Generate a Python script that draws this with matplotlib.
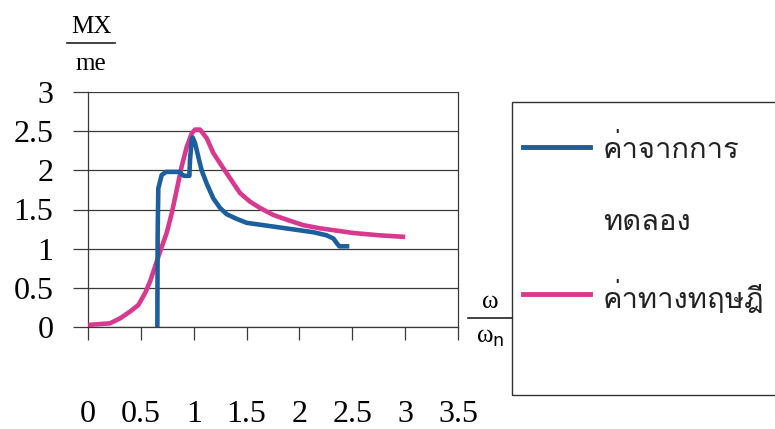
import matplotlib
matplotlib.use("Agg")
import matplotlib.pyplot as plt
from matplotlib import font_manager
from matplotlib.ft2font import FT2Font
from matplotlib.lines import Line2D
from matplotlib.patches import Rectangle

# ค่าจากการทดลอง (experimental)
exp_x = [0.656, 0.659, 0.665, 0.697, 0.738, 0.870, 0.886, 0.908, 0.959,
         0.965, 0.981, 0.990, 1.012, 1.044, 1.075, 1.123, 1.186, 1.249,
         1.312, 1.407, 1.501, 1.659, 1.816, 1.974, 2.132, 2.258, 2.321,
         2.353, 2.378, 2.472]
exp_y = [0.0, 1.20, 1.77, 1.94, 1.98, 1.98, 1.95, 1.93, 1.93,
         2.13, 2.39, 2.42, 2.35, 2.17, 2.00, 1.83, 1.64, 1.52,
         1.44, 1.38, 1.33, 1.30, 1.27, 1.24, 1.21, 1.17, 1.13,
         1.07, 1.03, 1.03]

# ค่าทางทฤษฎี (theory)
th_x = [0.003, 0.208, 0.303, 0.397, 0.476, 0.539, 0.587, 0.634, 0.681,
        0.744, 0.792, 0.839, 0.886, 0.934, 0.981, 1.012, 1.060, 1.123,
        1.186, 1.249, 1.343, 1.438, 1.533, 1.627, 1.753, 1.880, 2.037,
        2.195, 2.353, 2.510, 2.760, 3.0]
th_y = [0.026, 0.047, 0.11, 0.196, 0.28, 0.43, 0.58, 0.77, 0.96,
        1.20, 1.45, 1.75, 2.05, 2.30, 2.47, 2.52, 2.52, 2.41,
        2.22, 2.09, 1.90, 1.71, 1.60, 1.52, 1.43, 1.37, 1.30,
        1.26, 1.23, 1.20, 1.17, 1.15]

x_ticks = [0, 0.5, 1, 1.5, 2, 2.5, 3, 3.5]
y_ticks = [0, 0.5, 1, 1.5, 2, 2.5, 3]
labels = ["ค่าจากการ\nทดลอง", "ค่าทางทฤษฎี"]

BLUE = "#1c5f9e"
MAGENTA = "#d8398f"


def find_thai_font():
    for f in font_manager.fontManager.ttflist:
        try:
            cmap = FT2Font(f.fname).get_charmap()
        except Exception:
            continue
        if 0x0E01 in cmap and 0x0E24 in cmap and 0x0E0F in cmap:
            return f.name
    return "DejaVu Sans"


thai_font = find_thai_font()
plt.rcParams["font.family"] = ["Liberation Serif", "DejaVu Serif"]

fig = plt.figure(figsize=(7.75, 4.29), dpi=100)
fig.patch.set_facecolor("white")
ax = fig.add_axes([88 / 775, 1 - 327 / 429, 370 / 775, 235 / 429])

ax.plot(th_x, th_y, color=MAGENTA, lw=3.3, solid_joinstyle="round",
        solid_capstyle="butt", zorder=3)
ax.plot(exp_x, exp_y, color=BLUE, lw=3.3, solid_joinstyle="round",
        solid_capstyle="butt", zorder=4)

ax.set_xlim(0, 3.5)
ax.set_ylim(0, 3)
ax.set_xticks(x_ticks)
ax.set_xticklabels([f"{v:g}" for v in x_ticks])
ax.set_yticks(y_ticks)
ax.set_yticklabels([f"{v:g}" for v in y_ticks])
ax.yaxis.grid(True, color="#3a3a3a", lw=0.9)
ax.tick_params(axis="y", length=11, width=0.9, color="#3a3a3a",
               labelsize=23, pad=14)
ax.tick_params(axis="x", length=9.5, width=0.9, color="#3a3a3a",
               labelsize=23, pad=43)
for side in ["left", "right", "bottom"]:
    ax.spines[side].set_color("#3a3a3a")
    ax.spines[side].set_linewidth(0.9)
ax.spines["top"].set_visible(False)

# axis labels as fractions
fig.text(91 / 775, 1 - 27 / 429, "MX", ha="center", va="center", fontsize=18)
fig.add_artist(Line2D([67 / 775, 115 / 775], [1 - 43 / 429, 1 - 43 / 429],
                      color="#222222", lw=1.2))
fig.text(91 / 775, 1 - 64 / 429, "me", ha="center", va="center", fontsize=18)

fig.text(490 / 775, 1 - 302 / 429, "ω", ha="center", va="center", fontsize=18)
fig.add_artist(Line2D([468 / 775, 512 / 775], [1 - 318 / 429, 1 - 318 / 429],
                      color="#222222", lw=1.2))
fig.text(490 / 775, 1 - 338 / 429, r"ω$_\mathrm{n}$", ha="center",
         va="center", fontsize=18)

# legend box
fig.add_artist(Rectangle((512 / 775, 1 - 395 / 429), 300 / 775, 293 / 429,
                         fill=False, edgecolor="#333333", lw=1.0))
fig.add_artist(Line2D([523 / 775, 590 / 775], [1 - 147 / 429, 1 - 147 / 429],
                      color=BLUE, lw=3.5))
fig.add_artist(Line2D([523 / 775, 590 / 775], [1 - 294 / 429, 1 - 294 / 429],
                      color=MAGENTA, lw=3.5))
first, second = labels[0].split("\n")
fig.text(603 / 775, 1 - 150 / 429, first, ha="left", va="center",
         fontsize=21, family=[thai_font, "DejaVu Sans"], color="#222222")
fig.text(603 / 775, 1 - 222 / 429, second, ha="left", va="center",
         fontsize=21, family=[thai_font, "DejaVu Sans"], color="#222222")
fig.text(603 / 775, 1 - 297 / 429, labels[1], ha="left", va="center",
         fontsize=21, family=[thai_font, "DejaVu Sans"], color="#222222")

fig.savefig("out.png", dpi=100)
